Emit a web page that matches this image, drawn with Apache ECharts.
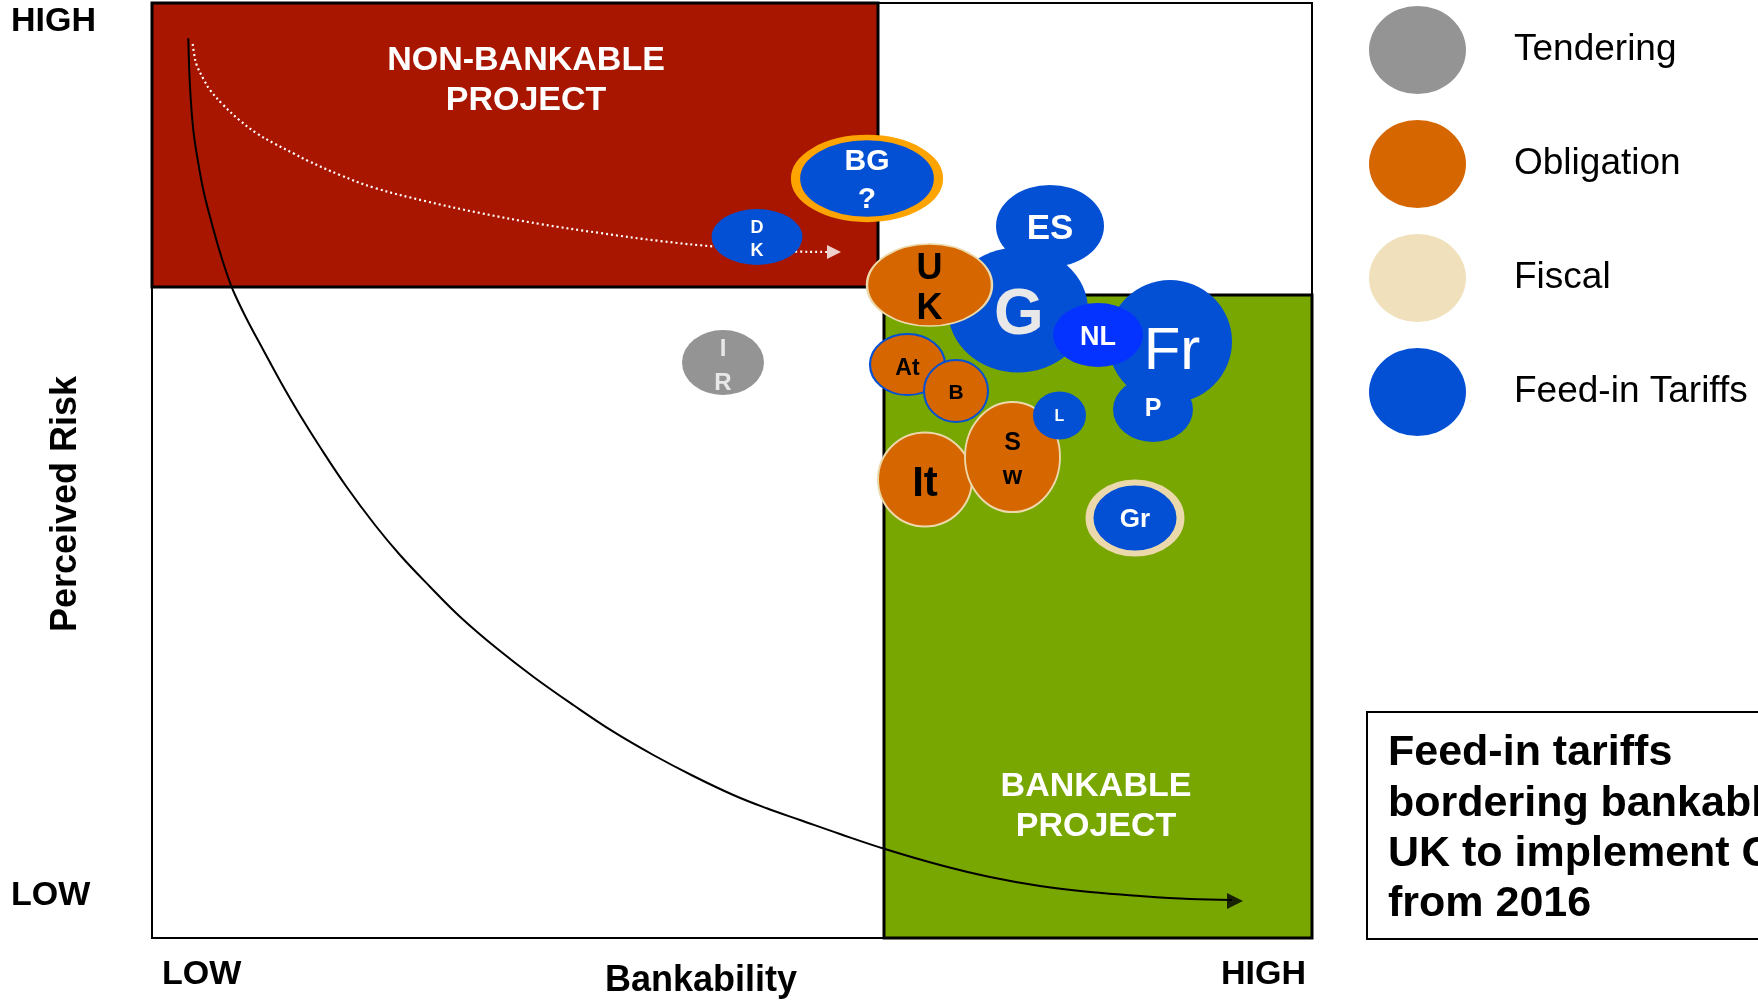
<!DOCTYPE html>
<html>
<head>
<meta charset="utf-8">
<script src="https://cdn.jsdelivr.net/npm/echarts@6/dist/echarts.min.js"></script>
<style>
html,body{margin:0;padding:0;background:#fff;}
#chart{width:1758px;height:1001px;}
</style>
</head>
<body>
<div id="chart"></div>
<script>
// ---------- DATA (arbitrary units: bankability 0..1160, perceived risk 0..935) ----------
const schemes = ['Tendering', 'Obligation', 'Fiscal', 'Feed-in Tariffs'];
const countries = ['ES', 'G', 'Fr', 'P', 'Gr', 'BG', 'DK', 'UK', 'At', 'B', 'It', 'Sw', 'NL', 'L', 'IR'];
const bubbleLabels = ['ES', 'G', 'Fr', 'P', 'Gr', 'BG\n?', 'D\nK', 'U\nK', 'At', 'B', 'It', 'S\nw', 'NL', 'L', 'I\nR'];
const countryScheme = ['Feed-in Tariffs', 'Feed-in Tariffs', 'Feed-in Tariffs', 'Feed-in Tariffs', 'Feed-in Tariffs',
  'Feed-in Tariffs', 'Feed-in Tariffs', 'Obligation', 'Obligation', 'Obligation', 'Obligation', 'Obligation',
  'Feed-in Tariffs', 'Feed-in Tariffs', 'Tendering'];
const bankability = [898, 866, 1018, 1001, 983, 715, 605, 777.5, 755.5, 804, 773, 860.5, 946, 907.5, 571];
const perceivedRisk = [712, 628, 596.5, 528.5, 420, 759.5, 701, 653, 573.5, 547, 458.5, 481, 603, 522.5, 575.5];

// zones
const nonBankableZone = [[0, 651], [726, 935]];
const bankableZone = [[732, 0], [1160, 643]];
const zoneLabels = ['NON-BANKABLE\nPROJECT', 'BANKABLE\nPROJECT'];

// curves
const pathX = [36.3, 38, 41.3, 46.3, 51.3, 58, 66.3, 74.7, 81.3, 94.7, 111.3, 128.7, 147.3, 168, 194.7, 223, 248, 278, 308, 344.7, 381.3, 421.3, 461.3, 501.3, 541.3, 581.3, 614.7, 648, 688, 733, 788, 838, 888, 938, 988, 1038, 1080];
const pathY = [899.7, 851.3, 808, 774.7, 748, 721.3, 691.3, 664.7, 647, 619, 588, 556, 524, 491, 451, 413, 383, 351.3, 321.3, 289.7, 261.3, 233, 206.3, 183, 162, 143, 129.7, 118, 104, 89, 73, 61, 52, 46, 42, 39, 38];
const pathArrow = [1083, 37];
const dotX = [40.7, 42.3, 44.7, 52, 58, 71.3, 87.3, 104.7, 122, 141.3, 155.7, 188, 223, 273, 328, 388, 448, 508, 568, 628, 675];
const dotY = [894, 883, 873, 858, 848, 833, 818, 804.7, 794.7, 784.7, 777.3, 763, 750, 737, 725, 714, 705, 697, 691, 687, 686];
const dotArrow = [682, 686];

// tick labels / axis names
const xTickLabels = ['LOW', 'HIGH'];
const yTickLabels = ['LOW', 'HIGH'];
const xAxisName = 'Bankability';
const yAxisName = 'Perceived Risk';
const noteLines = ['Feed-in tariffs', 'bordering bankable', 'UK to implement CfD', 'from 2016'];

// ---------- STYLES ----------
const FONT = '"Liberation Sans", Arial, Helvetica, sans-serif';
const BLUE = '#0450d4', NLBLUE = '#0433ff', ORANGE = '#d66600', BEIGE = '#ecd9ab', GREY = '#949494';
const RED = '#a81600', GREEN = '#77a700', BGRING = '#fea400';
const schemeColors = {'Tendering': GREY, 'Obligation': ORANGE, 'Fiscal': BEIGE, 'Feed-in Tariffs': BLUE};
const W = '#ffffff', K = '#000000', LG = '#e8e8e8';
const ELLIPSE = 'path://M0,50A50,50,0,1,1,100,50A50,50,0,1,1,0,50Z';
const bubbleStyle = {
  ES: {size: [108, 82], fc: W, fs: 35, off: [0, 3]},
  G:  {size: [140, 125], fc: LG, fs: 64, off: [1, 6]},
  Fr: {size: [124, 123], fc: W, fs: 60, fw: 'normal', off: [2, 11]},
  P:  {size: [80, 65], fc: W, fs: 25, off: [0, 0]},
  Gr: {size: [91, 71], fc: W, fs: 26, bc: BEIGE, bw: 7, off: [0, 2]},
  BG: {size: [143, 82], fc: W, fs: 30, lh: 38, bc: BGRING, bw: 7, off: [0, 2]},
  DK: {size: [91, 56], fc: W, fs: 18, lh: 23, off: [0, 3]},
  UK: {size: [125, 82], fc: K, fs: 36, lh: 40, bc: BEIGE, bw: 2, off: [0, 4]},
  At: {size: [75, 61], fc: K, fs: 23, bc: BLUE, bw: 2, off: [0, 4]},
  B:  {size: [64, 62], fc: K, fs: 21, bc: BLUE, bw: 2, off: [0, 2]},
  It: {size: [94, 94], fc: K, fs: 42, bc: BEIGE, bw: 2, off: [0, 5]},
  Sw: {size: [95, 110], fc: K, fs: 25, lh: 34, bc: BEIGE, bw: 2, off: [0, 3]},
  NL: {size: [90, 64], fc: W, fs: 27, color: NLBLUE, front: true, off: [0, 3]},
  L:  {size: [53, 48], fc: W, fs: 16, front: true, off: [0, 1]},
  IR: {size: [82, 65], fc: LG, fs: 24, lh: 34, off: [0, 4]}
};

function bubbles(scheme, front) {
  const out = [];
  countries.forEach((c, i) => {
    const st = bubbleStyle[c];
    if (countryScheme[i] !== scheme || !!st.front !== front) return;
    out.push({
      name: c,
      value: [bankability[i], perceivedRisk[i]],
      symbolSize: st.size,
      itemStyle: {
        color: st.color || schemeColors[scheme],
        borderColor: st.bc || 'transparent',
        borderWidth: st.bw || 0,
        opacity: 1
      },
      label: {
        show: true, position: 'inside',
        formatter: bubbleLabels[i],
        color: st.fc, fontSize: st.fs, fontWeight: st.fw || 'bold',
        fontFamily: FONT, lineHeight: st.lh || st.fs,
        offset: st.off || [0, 0]
      }
    });
  });
  return out;
}

function scatterSeries(name, front, z) {
  return {
    type: 'scatter', name: name, z: z, symbol: 'circle',
    itemStyle: {color: schemeColors[name], opacity: 1},
    emphasis: {disabled: true},
    data: bubbles(name, front)
  };
}

const chart = echarts.init(document.getElementById('chart'), null, {renderer: 'canvas'});

const option = {
  animation: false,
  backgroundColor: '#ffffff',
  grid: {left: 152, top: 3, width: 1160, height: 935, show: true, borderColor: '#000', borderWidth: 2, backgroundColor: 'transparent'},
  xAxis: {type: 'value', min: 0, max: 1160, show: false, splitLine: {show: false}},
  yAxis: {type: 'value', min: 0, max: 935, show: false, splitLine: {show: false}},
  legend: {
    data: schemes, orient: 'vertical', left: 1369, top: 6,
    itemWidth: 97, itemHeight: 88, itemGap: 26, padding: 0,
    icon: ELLIPSE, symbolKeepAspect: false, selectedMode: false,
    textStyle: {fontSize: 37, color: '#000', fontFamily: FONT, padding: [0, 0, 17, 43]}
  },
  series: [
    {
      type: 'scatter', name: 'zones', z: 1, data: [], silent: true,
      markArea: {
        silent: true,
        data: [
          [{coord: nonBankableZone[0], itemStyle: {color: RED, borderColor: '#000', borderWidth: 3, opacity: 1},
            label: {show: true, position: 'inside', formatter: zoneLabels[0], offset: [11, -64], color: '#fff', fontSize: 34, fontWeight: 'bold', fontFamily: FONT, lineHeight: 40}},
           {coord: nonBankableZone[1]}],
          [{coord: bankableZone[0], itemStyle: {color: GREEN, borderColor: '#000', borderWidth: 3, opacity: 1},
            label: {show: true, position: 'inside', formatter: zoneLabels[1], offset: [-2, 190], color: '#fff', fontSize: 34, fontWeight: 'bold', fontFamily: FONT, lineHeight: 40}},
           {coord: bankableZone[1]}]
        ]
      }
    },
    {
      type: 'line', name: 'path', z: 2, smooth: 0.4, symbol: 'none', silent: true,
      lineStyle: {color: '#000', width: 2},
      data: pathX.map((x, i) => [x, pathY[i]])
    },
    {
      type: 'line', name: 'dotted', z: 2, smooth: 0.4, symbol: 'none', silent: true,
      lineStyle: {color: '#fff', width: 2.2, type: [2, 3]},
      data: dotX.map((x, i) => [x, dotY[i]])
    },
    {
      type: 'scatter', name: 'arrows', z: 2, silent: true, symbol: 'triangle', symbolRotate: -90,
      data: [
        {value: pathArrow, symbolSize: [16, 16], itemStyle: {color: '#000'}},
        {value: dotArrow, symbolSize: [14, 14], itemStyle: {color: '#fff'}}
      ]
    },
    scatterSeries('Feed-in Tariffs', false, 3),
    scatterSeries('Obligation', false, 4),
    scatterSeries('Feed-in Tariffs', true, 5),
    scatterSeries('Tendering', false, 5),
    {type: 'scatter', name: 'Fiscal', z: 5, itemStyle: {color: BEIGE}, data: []}
  ],
  graphic: [
    {type: 'text', left: 11, top: 5, style: {text: yTickLabels[1], font: 'bold 34px ' + FONT, fill: '#000'}},
    {type: 'text', left: 11, top: 879, style: {text: yTickLabels[0], font: 'bold 34px ' + FONT, fill: '#000'}},
    {type: 'text', left: 162, top: 958, style: {text: xTickLabels[0], font: 'bold 34px ' + FONT, fill: '#000'}},
    {type: 'text', right: 452, top: 958, style: {text: xTickLabels[1], font: 'bold 34px ' + FONT, fill: '#000'}},
    {type: 'text', x: 701, y: 981, style: {text: xAxisName, font: 'bold 36px ' + FONT, fill: '#000', align: 'center', verticalAlign: 'middle'}},
    {type: 'text', x: 66, y: 504, rotation: Math.PI / 2, style: {text: yAxisName, font: 'bold 36px ' + FONT, fill: '#000', align: 'center', verticalAlign: 'middle'}},
    {type: 'rect', shape: {x: 1367, y: 712, width: 520, height: 227}, style: {fill: '#fff', stroke: '#000', lineWidth: 2}},
    {type: 'text', x: 1388, y: 753, style: {text: noteLines[0], font: 'bold 43px ' + FONT, fill: '#000', verticalAlign: 'middle'}},
    {type: 'text', x: 1388, y: 804, style: {text: noteLines[1], font: 'bold 43px ' + FONT, fill: '#000', verticalAlign: 'middle'}},
    {type: 'text', x: 1388, y: 854, style: {text: noteLines[2], font: 'bold 43px ' + FONT, fill: '#000', verticalAlign: 'middle'}},
    {type: 'text', x: 1388, y: 904, style: {text: noteLines[3], font: 'bold 43px ' + FONT, fill: '#000', verticalAlign: 'middle'}}
  ]
};
chart.setOption(option);
</script>
</body>
</html>
